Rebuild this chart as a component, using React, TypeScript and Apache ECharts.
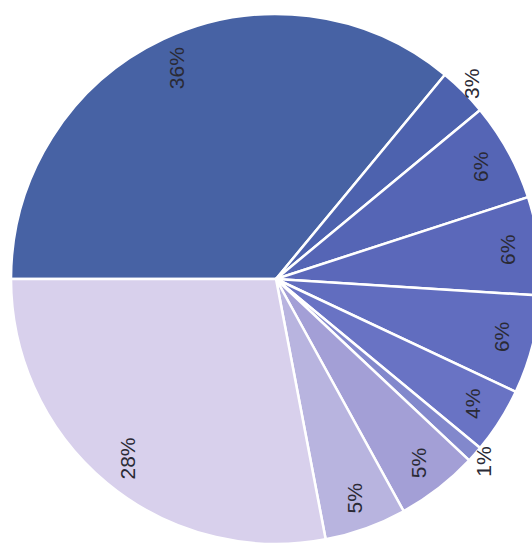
import React, { useEffect, useRef } from "react";
import * as echarts from "echarts";

const shares = [36, 3, 6, 6, 6, 4, 1, 5, 5, 28];
const sliceNames = ["A", "B", "C", "D", "E", "F", "G", "H", "I", "J"];
const sliceColors = [
  "#4762a4",
  "#4d62ae",
  "#5565b5",
  "#5b68ba",
  "#616dbf",
  "#6973c4",
  "#8288cc",
  "#a39fd6",
  "#b8b4df",
  "#d8d0ec",
];
const outsideLabel = [false, true, false, false, false, false, true, false, false, false];

export default function App() {
  const ref = useRef<HTMLDivElement>(null);
  useEffect(() => {
    if (!ref.current) return;
    const chart = echarts.init(ref.current, undefined, { renderer: "svg" });
    const center = [276, 279];
    const labelStyle = {
      rotate: 90,
      color: "#2a2a35",
      fontSize: 21,
      fontFamily: "Liberation Sans, Arial, sans-serif",
      formatter: "{c}%",
    };
    chart.setOption({
      animation: false,
      backgroundColor: "#ffffff",
      series: [
        {
          type: "pie",
          center,
          radius: [0, 265],
          startAngle: 180,
          clockwise: true,
          silent: true,
          label: { show: false },
          labelLine: { show: false },
          itemStyle: { borderColor: "#ffffff", borderWidth: 2.5 },
          data: shares.map((v, i) => ({
            name: sliceNames[i],
            value: v,
            itemStyle: { color: sliceColors[i] },
          })),
        },
        {
          type: "pie",
          center,
          radius: [205, 255],
          startAngle: 180,
          clockwise: true,
          silent: true,
          avoidLabelOverlap: false,
          itemStyle: { color: "rgba(0,0,0,0)", borderWidth: 0 },
          labelLine: { show: false },
          label: { ...labelStyle, show: true, position: "inside" },
          data: shares.map((v, i) => ({
            name: sliceNames[i],
            value: v,
            label: { show: !outsideLabel[i] },
          })),
        },
        {
          type: "pie",
          center,
          radius: [256, 290],
          startAngle: 180,
          clockwise: true,
          silent: true,
          avoidLabelOverlap: false,
          itemStyle: { color: "rgba(0,0,0,0)", borderWidth: 0 },
          labelLine: { show: false },
          label: { ...labelStyle, show: true, position: "inside" },
          data: shares.map((v, i) => ({
            name: sliceNames[i],
            value: v,
            label: { show: outsideLabel[i] },
          })),
        },
      ],
    });
    return () => chart.dispose();
  }, []);
  return (
    <div
      ref={ref}
      style={{ position: "fixed", left: 0, top: 0, width: 532, height: 551 }}
    />
  );
}
